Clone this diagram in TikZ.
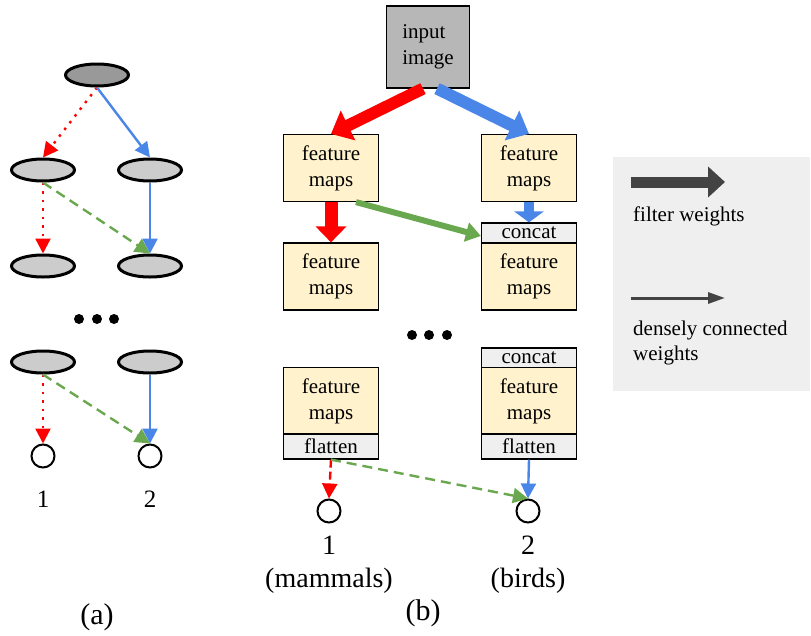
\documentclass[tikz,border=0pt]{standalone}
\usepackage{fontspec}
\setmainfont{Liberation Serif}
\usetikzlibrary{arrows.meta,shapes.geometric}
\definecolor{netred}{HTML}{FF0000}
\definecolor{netblue}{HTML}{4A86E8}
\definecolor{netgreen}{HTML}{6AA84F}
\definecolor{fmyellow}{HTML}{FFF2CC}
\definecolor{opgray}{HTML}{EFEFEF}
\definecolor{imgray}{HTML}{B7B7B7}
\definecolor{legdark}{HTML}{434343}
\tikzset{
  unit/.style={draw,ellipse,line width=3pt,minimum width=63pt,minimum height=22pt,inner sep=0pt,fill=black!20},
  cls/.style={draw,circle,line width=2pt,minimum size=23pt,inner sep=0pt},
  fmap/.style={draw,fill=fmyellow,line width=1.2pt,minimum width=95pt,minimum height=67pt,align=center,inner sep=0pt,font=\fontsize{21}{26}\selectfont},
  op/.style={draw,fill=opgray,line width=1.2pt,minimum width=95pt,minimum height=20pt,inner sep=0pt,font=\fontsize{21}{26}\selectfont},
  dense/.style={line width=2.4pt,-{Triangle[width=15pt,length=15pt]}},
  filt/.style={line width=12pt,-{Triangle[width=32pt,length=19pt]}},
  bullet/.style={circle,fill=black,minimum size=10pt,inner sep=0pt},
  dotline/.style={dash pattern=on 2.5pt off 6pt},
  dashline/.style={dash pattern=on 10pt off 6pt},
  lbl/.style={inner sep=0pt,align=center}
}

\begin{document}
\begin{tikzpicture}[x=1pt,y=-1pt]
  \useasboundingbox (0,0) rectangle (811,635);
  % (a) single network
  \node[unit,fill=black!40] (a0) at (97,75) {};
  \node[unit] (a1l) at (43,170) {};
  \node[unit] (a1r) at (150,170) {};
  \node[unit] (a2l) at (43,266) {};
  \node[unit] (a2r) at (150,266) {};
  \node[bullet] (ad1) at (79,319) {};
  \node[bullet] (ad2) at (97,319) {};
  \node[bullet] (ad3) at (114,319) {};
  \node[unit] (a3l) at (43,362) {};
  \node[unit] (a3r) at (150,362) {};
  \node[cls] (a4l) at (43,456) {};
  \node[cls] (a4r) at (150,456) {};
  \node[lbl,font=\fontsize{25}{28}\selectfont] (al1) at (43,499) {1};
  \node[lbl,font=\fontsize{25}{28}\selectfont] (al2) at (150,499) {2};
  \node[lbl,font=\fontsize{30}{34}\selectfont] (acap) at (97,617) {(a)};
  \draw[dense,netred,dotline] (a0.south) -- (a1l.north);
  \draw[dense,netblue] (a0.south) -- (a1r.north);
  \draw[dense,netred,dotline] (a1l.south) -- (a2l.north);
  \draw[dense,netgreen,dashline] (a1l.south) -- (a2r.north);
  \draw[dense,netblue] (a1r.south) -- (a2r.north);
  \draw[dense,netred,dotline] (a3l.south) -- (a4l.north);
  \draw[dense,netgreen,dashline] (a3l.south) -- (a4r.north);
  \draw[dense,netblue] (a3r.south) -- (a4r.north);

  % (b) two branches
  \node[draw,fill=imgray,line width=1.2pt,minimum width=83pt,minimum height=82pt,align=left,font=\fontsize{21}{26}\selectfont] (img) at (428,47) {input\\image};
  \node[fmap] (fm1) at (331,168) {feature\\maps};
  \node[fmap] (fm2) at (529,168) {feature\\maps};
  \node[op] (cc1) at (529,233) {concat};
  \node[fmap] (fm3) at (331,276.5) {feature\\maps};
  \node[fmap] (fm4) at (529,276.5) {feature\\maps};
  \node[bullet] (bd1) at (412,335) {};
  \node[bullet] (bd2) at (429,335) {};
  \node[bullet] (bd3) at (447,335) {};
  \node[op] (cc2) at (529,358) {concat};
  \node[fmap] (fm5) at (331,401) {feature\\maps};
  \node[fmap] (fm6) at (529,401) {feature\\maps};
  \node[op,minimum height=25pt] (fl1) at (331,446.5) {flatten};
  \node[op,minimum height=25pt] (fl2) at (529,446.5) {flatten};
  \node[cls] (b1) at (329,511) {};
  \node[cls] (b2) at (528,511) {};
  \node[lbl,font=\fontsize{28}{33}\selectfont] (bl1) at (329,565) {1\\(mammals)};
  \node[lbl,font=\fontsize{28}{33}\selectfont] (bl2) at (528,565) {2\\(birds)};
  \node[lbl,font=\fontsize{30}{34}\selectfont] (bcap) at (423,613) {(b)};
  \draw[filt,netred] ([xshift=-5pt]img.south) -- (fm1.north);
  \draw[filt,netblue] ([xshift=9pt]img.south) -- (fm2.north);
  \draw[filt,netred,line width=13pt,-{Triangle[width=30pt,length=16pt]}] (fm1.south) -- (fm3.north);
  \draw[filt,netblue,line width=10pt,-{Triangle[width=29pt,length=11pt]}] (fm2.south) -- (cc1.north);
  \draw[netgreen,line width=6pt,-{Triangle[width=19pt,length=15pt]}] ([xshift=25pt]fm1.south) -- ([yshift=-3pt]cc1.west);
  \draw[dense,netred,dash pattern=on 8pt off 4pt] (fl1.south) -- (b1.north);
  \draw[dense,netgreen,dashline] (fl1.south) -- (b2.north);
  \draw[dense,netblue] (fl2.south) -- (b2.north);

  % legend
  \fill[opgray] (613,157) rectangle (810,391);
  \coordinate (lf0) at (631,182);
  \coordinate (lf1) at (725,182);
  \coordinate (ld0) at (631,298);
  \coordinate (ld1) at (725,298);
  \draw[filt,legdark,line width=11pt,-{Triangle[width=30pt,length=17pt]}] (lf0) -- (lf1);
  \draw[legdark,line width=3pt,-{Triangle[width=11pt,length=17pt]}] (ld0) -- (ld1);
  \node[inner sep=0pt,anchor=north west,font=\fontsize{21}{25}\selectfont] (lt1) at (633,207) {filter weights};
  \node[inner sep=0pt,anchor=north west,align=left,font=\fontsize{21}{25}\selectfont] (lt2) at (633,321) {densely connected\\weights};
\end{tikzpicture}
\end{document}
